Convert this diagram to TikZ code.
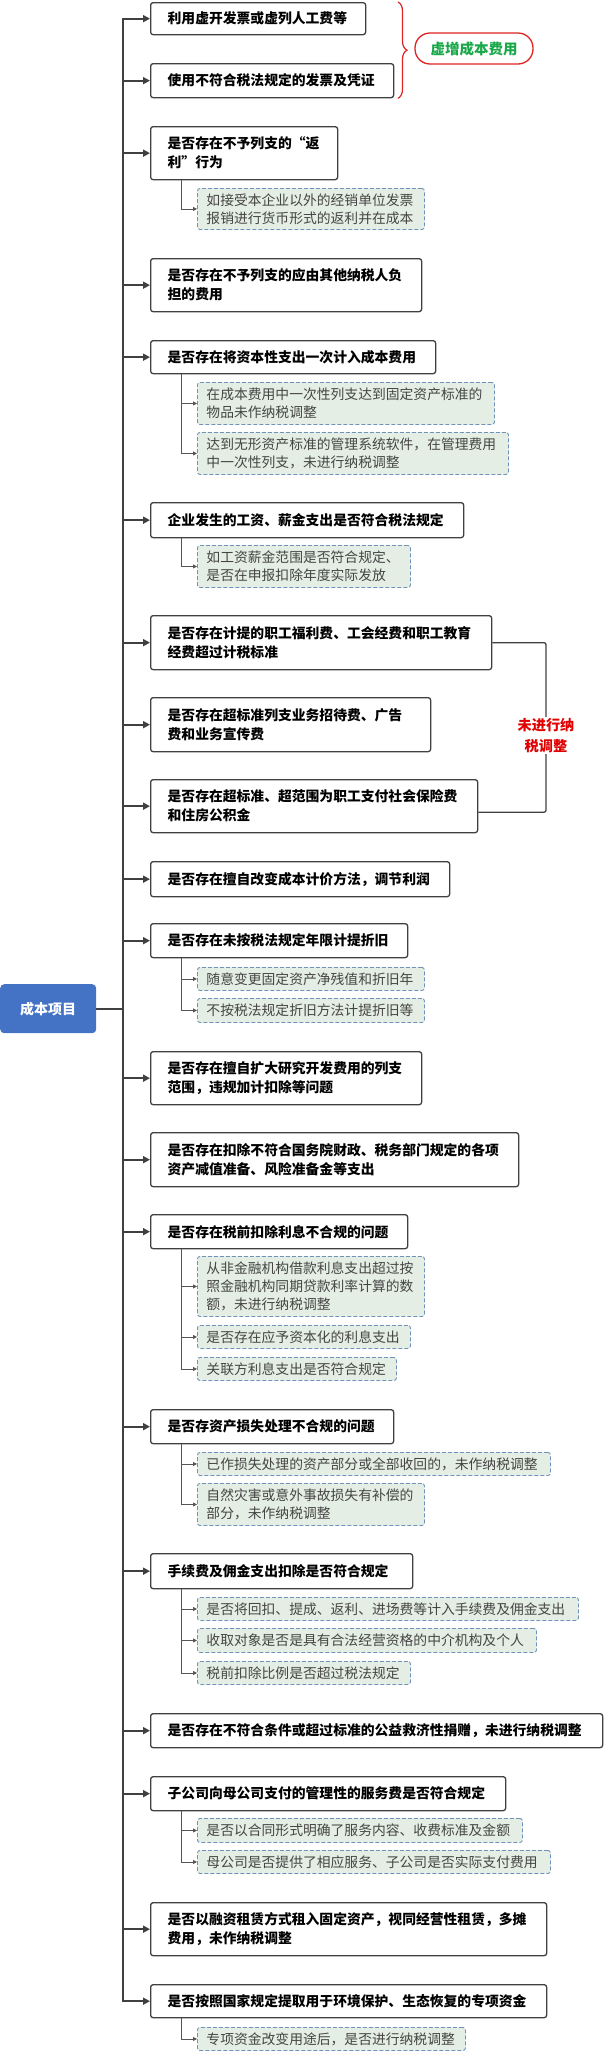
\documentclass[tikz,border=0pt]{standalone}
\usepackage{fontspec}
\setmainfont{Noto Sans CJK SC}
\usetikzlibrary{arrows.meta,decorations.pathreplacing}
\definecolor{linegray}{HTML}{404040}
\definecolor{subline}{HTML}{555555}
\definecolor{subtext}{HTML}{454545}
\definecolor{subfill}{HTML}{E4EEE4}
\definecolor{dashblue}{HTML}{6F93B8}
\definecolor{rootblue}{HTML}{4472C4}
\definecolor{tagred}{HTML}{E02424}
\definecolor{taggreen}{HTML}{1BA84A}
\definecolor{notered}{HTML}{E00000}

\begin{document}
\begin{tikzpicture}[x=1pt,y=-1pt,
  mainbox/.style={draw=linegray,line width=1.3pt,rounded corners=2.5pt,fill=white,anchor=north west,
    inner xsep=17pt,inner ysep=2pt,align=left,font=\fontsize{13.8}{19}\selectfont\bfseries},
  subbox/.style={draw=dashblue,dash pattern=on 4pt off 2pt,line width=0.9pt,rounded corners=2.5pt,fill=subfill,
    anchor=north west,inner xsep=9pt,inner ysep=2pt,align=left,text=subtext,font=\fontsize{13.8}{18.3}\selectfont},
  rootbox/.style={fill=rootblue,rounded corners=4pt,anchor=north west,text=white,
    minimum width=96pt,minimum height=49pt,font=\fontsize{14}{16}\selectfont\bfseries},
  trunkline/.style={draw=linegray,line width=2pt},
  mainarrow/.style={draw=linegray,line width=1.8pt,-{Triangle[length=7pt,width=7pt]}},
  subarrow/.style={draw=subline,line width=0.8pt,-{Triangle[length=4pt,width=4pt]}},
  tagpill/.style={draw=tagred,line width=1.3pt,rounded corners=15pt,fill=white,text=taggreen,
    minimum width=118pt,minimum height=31pt,font=\fontsize{14.5}{16}\selectfont\bfseries},
  notetext/.style={fill=white,text=notered,align=center,inner sep=1pt,font=\fontsize{14.2}{21}\selectfont\bfseries}]
\useasboundingbox (0,0) rectangle (603,2051);

\node[rootbox] (root) at (0,984) {成本项目};

\node[mainbox,text width=181pt,minimum height=32pt] (b1) at (150,2) {利用虚开发票或虚列人工费等};
\node[mainbox,text width=209pt,minimum height=34pt] (b2) at (150,63) {使用不符合税法规定的发票及凭证};
\node[mainbox,text width=153pt,minimum height=53pt] (b3) at (150,126) {是否存在不予列支的“返\\利”行为};
\node[mainbox,text width=237pt,minimum height=53pt] (b4) at (150,258) {是否存在不予列支的应由其他纳税人负\\担的费用};
\node[mainbox,text width=251pt,minimum height=33pt] (b5) at (150,340) {是否存在将资本性支出一次计入成本费用};
\node[mainbox,text width=279pt,minimum height=35pt] (b6) at (150,502) {企业发生的工资、薪金支出是否符合税法规定};
\node[mainbox,text width=307pt,minimum height=54pt] (b7) at (150,615) {是否存在计提的职工福利费、工会经费和职工教育\\经费超过计税标准};
\node[mainbox,text width=246pt,minimum height=54pt] (b8) at (150,697) {是否存在超标准列支业务招待费、广告\\费和业务宣传费};
\node[mainbox,text width=293pt,minimum height=53pt] (b9) at (150,779) {是否存在超标准、超范围为职工支付社会保险费\\和住房公积金};
\node[mainbox,text width=265pt,minimum height=35pt] (b10) at (150,861) {是否存在擅自改变成本计价方法，调节利润};
\node[mainbox,text width=223pt,minimum height=34pt] (b11) at (150,923) {是否存在未按税法规定年限计提折旧};
\node[mainbox,text width=237pt,minimum height=53pt] (b12) at (150,1051) {是否存在擅自扩大研究开发费用的列支\\范围，违规加计扣除等问题};
\node[mainbox,text width=334pt,minimum height=54pt] (b13) at (150,1132) {是否存在扣除不符合国务院财政、税务部门规定的各项\\资产减值准备、风险准备金等支出};
\node[mainbox,text width=223pt,minimum height=34pt] (b14) at (150,1214) {是否存在税前扣除利息不合规的问题};
\node[mainbox,text width=209pt,minimum height=34pt] (b15) at (150,1409) {是否存资产损失处理不合规的问题};
\node[mainbox,text width=228pt,minimum height=35pt] (b16) at (150,1553) {手续费及佣金支出扣除是否符合规定};
\node[mainbox,text width=418pt,minimum height=34pt] (b17) at (150,1713) {是否存在不符合条件或超过标准的公益救济性捐赠，未进行纳税调整};
\node[mainbox,text width=321pt,minimum height=34pt] (b18) at (150,1776) {子公司向母公司支付的管理性的服务费是否符合规定};
\node[mainbox,text width=362pt,minimum height=53pt] (b19) at (150,1902) {是否以融资租赁方式租入固定资产，视同经营性租赁，多摊\\费用，未作纳税调整};
\node[mainbox,text width=362pt,minimum height=33pt] (b20) at (150,1984) {是否按照国家规定提取用于环境保护、生态恢复的专项资金};

\node[subbox,text width=209pt,minimum height=41pt] (s3a) at (197,188) {如接受本企业以外的经销单位发票\\报销进行货币形式的返利并在成本};
\node[subbox,text width=279pt,minimum height=42pt] (s5a) at (197,382) {在成本费用中一次性列支达到固定资产标准的\\物品未作纳税调整};
\node[subbox,text width=293pt,minimum height=42pt] (s5b) at (197,432) {达到无形资产标准的管理系统软件，在管理费用\\中一次性列支，未进行纳税调整};
\node[subbox,text width=195pt,minimum height=42pt] (s6a) at (197,545) {如工资薪金范围是否符合规定、\\是否在申报扣除年度实际发放};
\node[subbox,text width=209pt,minimum height=23pt] (s11a) at (197,967) {随意变更固定资产净残值和折旧年};
\node[subbox,text width=209pt,minimum height=24pt] (s11b) at (197,998) {不按税法规定折旧方法计提折旧等};
\node[subbox,text width=209pt,minimum height=60pt] (s14a) at (197,1256) {从非金融机构借款利息支出超过按\\照金融机构同期贷款利率计算的数\\额，未进行纳税调整};
\node[subbox,text width=195pt,minimum height=23pt] (s14b) at (197,1325) {是否存在应予资本化的利息支出};
\node[subbox,text width=181pt,minimum height=23pt] (s14c) at (197,1357) {关联方利息支出是否符合规定};
\node[subbox,text width=335pt,minimum height=23pt] (s15a) at (197,1452) {已作损失处理的资产部分或全部收回的，未作纳税调整};
\node[subbox,text width=209pt,minimum height=42pt] (s15b) at (197,1483) {自然灾害或意外事故损失有补偿的\\部分，未作纳税调整};
\node[subbox,text width=363pt,minimum height=23pt] (s16a) at (197,1597) {是否将回扣、提成、返利、进场费等计入手续费及佣金支出};
\node[subbox,text width=321pt,minimum height=24pt] (s16b) at (197,1628) {收取对象是否是具有合法经营资格的中介机构及个人};
\node[subbox,text width=195pt,minimum height=23pt] (s16c) at (197,1661) {税前扣除比例是否超过税法规定};
\node[subbox,text width=307pt,minimum height=24pt] (s18a) at (197,1818) {是否以合同形式明确了服务内容、收费标准及金额};
\node[subbox,text width=335pt,minimum height=23pt] (s18b) at (197,1850) {母公司是否提供了相应服务、子公司是否实际支付费用};
\node[subbox,text width=250pt,minimum height=23pt] (s20a) at (197,2027) {专项资金改变用途后，是否进行纳税调整};

\coordinate (tk) at (123,0);
\coordinate (bk) at (546,0);
\coordinate (br) at (398,0);
\draw[trunkline,line cap=rect] (b1.west -| tk) -- (b20.west -| tk);
\draw[trunkline] (root.east) -- (root.east -| tk);
\foreach \b in {b1,b2,b3,b4,b5,b6,b7,b8,b9,b10,b11,b12,b13,b14,b15,b16,b17,b18,b19,b20}
  \draw[mainarrow] (\b.west -| tk) -- (\b.west);
\foreach \p/\s in {b3/s3a,b5/s5a,b5/s5b,b6/s6a,b11/s11a,b11/s11b,b14/s14a,b14/s14b,b14/s14c,
    b15/s15a,b15/s15b,b16/s16a,b16/s16b,b16/s16c,b18/s18a,b18/s18b,b20/s20a}
  \draw[subarrow] ([xshift=31pt]\p.south west) |- (\s.west);

\draw[tagred,line width=1.2pt,decorate,decoration={brace,amplitude=9pt}] (b1.north -| br) -- (b2.south -| br);
\node[tagpill] (tag) at (474,48.5) {虚增成本费用};

\draw[linegray,line width=1.3pt,rounded corners=2pt] (b7.east) -- (b7.east -| bk) -- ([yshift=-6pt]b9.east -| bk) -- ([yshift=-6pt]b9.east);
\node[notetext] (note) at (546,735.5) {未进行纳\\税调整};
\end{tikzpicture}
\end{document}
